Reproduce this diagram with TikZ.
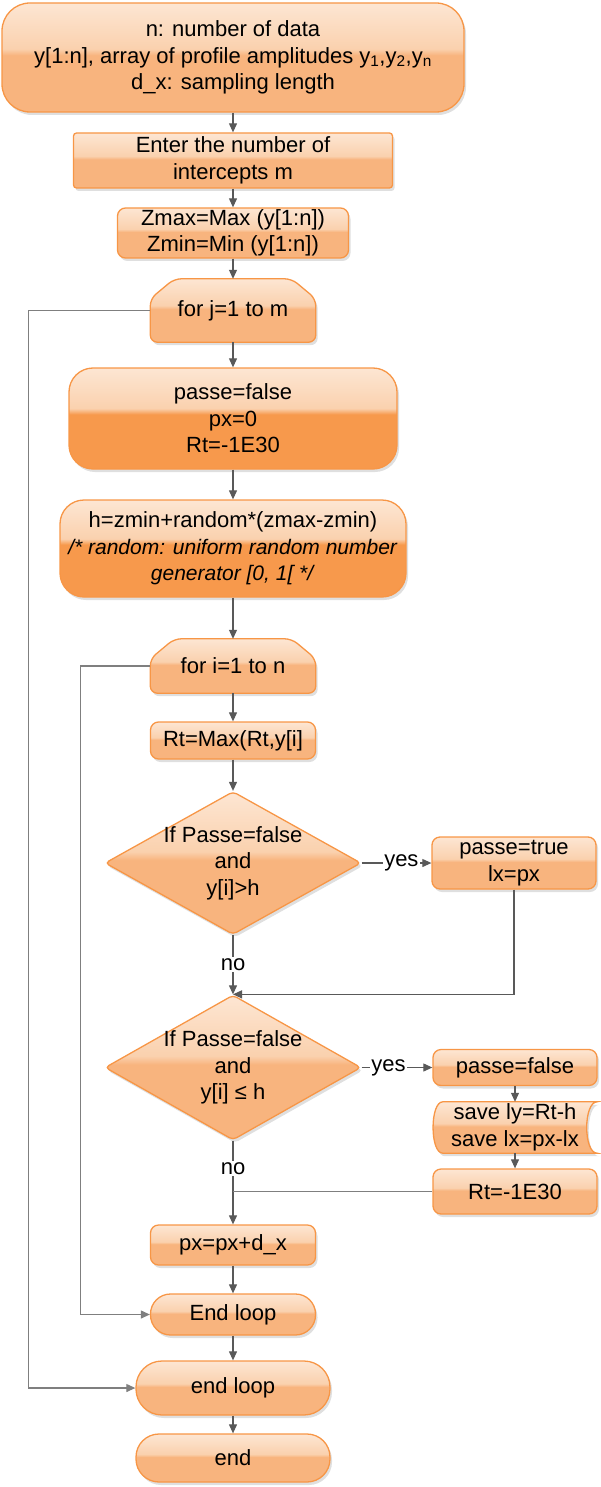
\documentclass[tikz,border=0pt]{standalone}
\usepackage{fontspec}
\setmainfont{Liberation Sans}
\usetikzlibrary{positioning, shapes, arrows.meta, calc, shadows, backgrounds}

\definecolor{orline}{HTML}{F79646}
\definecolor{ortop}{HTML}{FDE6D3}
\definecolor{orhi}{HTML}{FAD1AE}
\definecolor{orlow}{HTML}{F8B47E}
\definecolor{ordark}{HTML}{F7994C}
\definecolor{arrgray}{HTML}{595959}
\definecolor{linegray}{HTML}{7F7F7F}

\pgfdeclareverticalshading{glossy}{100bp}{color(0bp)=(orlow); color(25bp)=(orlow); color(51bp)=(orlow); color(54bp)=(orhi); color(75bp)=(ortop); color(100bp)=(ortop)}
\pgfdeclareverticalshading{glossydark}{100bp}{color(0bp)=(ordark); color(25bp)=(ordark); color(52bp)=(ordark); color(55bp)=(orhi); color(75bp)=(ortop); color(100bp)=(ortop)}

\tikzset{
  orfill/.style={draw=orline, line width=1.3pt, shading=glossy,
    drop shadow={opacity=0.25, shadow xshift=2pt, shadow yshift=-3pt}},
  txt/.style={font=\fontsize{22}{26.5}\selectfont, align=center, inner sep=0pt},
  flowbox/.style={orfill, txt, rectangle, rounded corners=#1},
  flowbox/.default=8pt,
  decision/.style={orfill, diamond, rounded corners=4pt, inner sep=0pt},
  arr/.style={draw=arrgray, line width=1.1pt, -{Triangle[length=9pt, width=8pt]}},
  loopline/.style={draw=linegray, line width=1pt},
  lab/.style={txt, fill=white, inner sep=1.5pt},
}

\begin{document}
\begin{tikzpicture}[x=1pt, y=-1pt]
  \useasboundingbox (0,0) rectangle (600,1487);
  % main column
  \node[flowbox=28pt, minimum width=462pt, minimum height=109pt] (in) at (233,57.5)
    {n: number of data\\y[1:n], array of profile amplitudes y\textsubscript{1},y\textsubscript{2},y\textsubscript{n}\\d\_x: sampling length};
  \node[flowbox=3pt, minimum width=319pt, minimum height=55pt] (enter) at (233,160.5) {Enter the number of\\intercepts m};
  \node[flowbox, minimum width=231pt, minimum height=50pt] (zmm) at (233,233) {Zmax=Max (y[1:n])\\Zmin=Min (y[1:n])};
  \node[txt, minimum width=165pt, minimum height=63pt] (forj) at (233,310.5) {for j=1 to m};
  \node[flowbox=24pt, shading=glossydark, minimum width=328pt, minimum height=101pt] (init) at (233,418.5) {passe=false\\px=0\\Rt=-1E30};
  \node[flowbox=24pt, shading=glossydark, minimum width=346pt, minimum height=97pt] (hbox) at (233,548.5)
    {h=zmin+random*(zmax-zmin)\\{\fontsize{21}{25}\selectfont\textit{/* random: uniform random number}}\\{\fontsize{21}{25}\selectfont\textit{generator [0, 1[ */}}};
  \node[txt, minimum width=165pt, minimum height=54pt] (fori) at (233,666) {for i=1 to n};
  \node[flowbox, minimum width=165pt, minimum height=37pt] (rtmax) at (233,740.5) {Rt=Max(Rt,y[i]};
  \node[decision, minimum width=256pt, minimum height=143pt] (dec1) at (233,863) {};
  \node[txt] (dec1t) at (dec1) {If Passe=false\\and\\y[i]>h};
  \node[decision, minimum width=256pt, minimum height=145pt] (dec2) at (233,1067.5) {};
  \node[txt] (dec2t) at (dec2) {If Passe=false\\and\\y[i] ≤ h};
  \node[flowbox, minimum width=165pt, minimum height=40pt] (pxbox) at (233,1245) {px=px+d\_x};
  \node[flowbox=20pt, minimum width=165pt, minimum height=41pt] (endi) at (233,1314.5) {End loop};
  \node[flowbox=26pt, minimum width=194pt, minimum height=54pt] (endj) at (233,1388) {end loop};
  \node[flowbox=23pt, minimum width=194pt, minimum height=48pt] (stop) at (233,1458) {end};
  % right column
  \node[flowbox, minimum width=164pt, minimum height=52pt] (ptrue) at (514,863) {passe=true\\lx=px};
  \node[flowbox, minimum width=164pt, minimum height=36pt] (pfalse) at (515,1067.5) {passe=false};
  \node[txt, minimum width=164pt, minimum height=51pt] (save) at (515,1127.5) {save ly=Rt-h\\save lx=px-lx};
  \node[flowbox, minimum width=164pt, minimum height=45pt] (rtreset) at (515,1191.5) {Rt=-1E30};

  % loop limits and stored data drawn behind their texts
  \begin{scope}[on background layer]
    \foreach \n in {forj, fori}
      \draw[orfill, rounded corners=7pt] (\n.south west) -- (\n.south east) -- ([yshift=-20pt]\n.north east)
        -- ([xshift=-24pt]\n.north east) -- ([xshift=24pt]\n.north west) -- ([yshift=-20pt]\n.north west) -- cycle;
    \draw[orfill] ([xshift=10pt]save.north west) -- (save.north east)
      .. controls ([xshift=-14pt]save.north east) and ([xshift=-14pt]save.south east) .. (save.south east)
      -- ([xshift=10pt]save.south west)
      .. controls ([xshift=-3pt]save.south west) and ([xshift=-3pt]save.north west) .. ([xshift=10pt]save.north west) -- cycle;
  \end{scope}

  % connectors
  \draw[arr] (in) -- (enter);
  \draw[arr] (enter) -- (zmm);
  \draw[arr] (zmm) -- (forj);
  \draw[arr] (forj) -- (init);
  \draw[arr] (init) -- (hbox);
  \draw[arr] (hbox) -- (fori);
  \draw[arr] (fori) -- (rtmax);
  \draw[arr] (rtmax) -- (dec1);
  \draw[arr] (dec1.east) -- node[lab, pos=0.57] (yes1) {yes} (ptrue.west);
  \draw[arr] (dec1.south) -- node[lab] (no1) {no} (dec2.north);
  \draw[arr] (ptrue.south) |- (dec2.north);
  \draw[arr] (dec2.east) -- node[lab, pos=0.38] (yes2) {yes} (pfalse.west);
  \draw[arr] (pfalse) -- (save);
  \draw[arr] (save) -- (rtreset);
  \draw[arr] (dec2.south) -- node[lab, pos=0.33] (no2) {no} (pxbox.north);
  \draw[loopline] (rtreset.west) -- (rtreset.west -| pxbox.north);
  \draw[arr] (pxbox) -- (endi);
  \draw[arr] (endi) -- (endj);
  \draw[arr] (endj) -- (stop);
  % loop returns
  \draw[loopline, arr, draw=linegray] (fori.west) -- ++(-70,0) |- (endi.west);
  \draw[loopline, arr, draw=linegray] (forj.west) -- ++(-121.5,0) |- (endj.west);
\end{tikzpicture}
\end{document}
